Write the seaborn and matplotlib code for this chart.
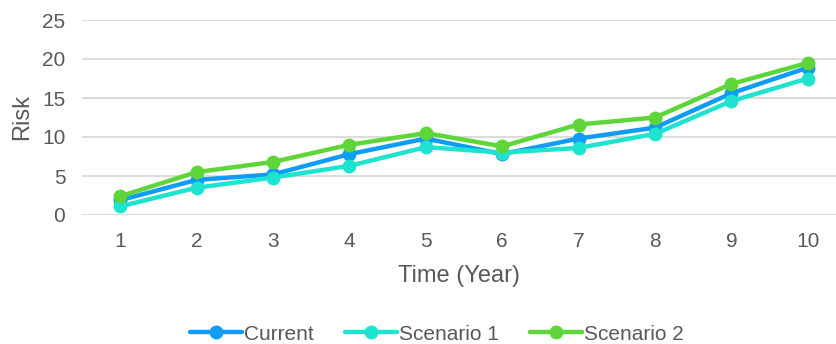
import matplotlib
matplotlib.use("Agg")
import matplotlib.pyplot as plt
import seaborn as sns
import pandas as pd

years = [1, 2, 3, 4, 5, 6, 7, 8, 9, 10]
current = [1.9, 4.5, 5.2, 7.8, 9.8, 7.8, 9.8, 11.2, 15.6, 18.9]
scenario1 = [1.1, 3.5, 4.8, 6.3, 8.7, 8.0, 8.6, 10.4, 14.6, 17.5]
scenario2 = [2.4, 5.5, 6.8, 9.0, 10.5, 8.8, 11.6, 12.5, 16.8, 19.5]
series_names = ["Current", "Scenario 1", "Scenario 2"]
colors = ["#0F9CF5", "#1EE3CF", "#5ED63A"]

df = pd.DataFrame({
    "Time (Year)": years * 3,
    "Risk": current + scenario1 + scenario2,
    "Series": [series_names[0]] * 10 + [series_names[1]] * 10 + [series_names[2]] * 10,
})

sns.set_theme(style="white")
plt.rcParams["font.family"] = ["Liberation Sans", "DejaVu Sans"]

fig = plt.figure(figsize=(8.37, 3.44), dpi=100)
ax = fig.add_axes([82 / 837, (344 - 215) / 344, (837 - 82) / 837, (215 - 20) / 344])

sns.lineplot(data=df, x="Time (Year)", y="Risk", hue="Series",
             palette=colors, marker="o", markersize=10, linewidth=3.2,
             markeredgewidth=0, ax=ax, legend=True)

ax.set_xlim(0.5, 0.5 + (837 - 82) / 76.4)
ax.set_ylim(0, 25)
ax.set_yticks([0, 5, 10, 15, 20, 25])
ax.set_xticks(years)
ax.yaxis.grid(True, color="#D9D9D9", linewidth=1.3)
ax.set_axisbelow(True)
for s in ax.spines.values():
    s.set_visible(False)
ax.tick_params(axis="both", length=0, labelsize=15, labelcolor="#595959")
ax.tick_params(axis="x", pad=12)
ax.tick_params(axis="y", pad=12)
ax.set_xlabel("Time (Year)", fontsize=17, color="#595959", labelpad=10)
ax.set_ylabel("Risk", fontsize=17, color="#595959", labelpad=6)

handles, labels = ax.get_legend_handles_labels()
ax.legend(handles, labels, loc="center", bbox_to_anchor=(437 / 837, 10 / 344),
          bbox_transform=fig.transFigure, ncol=3, frameon=False,
          fontsize=15, handlelength=2.5, handletextpad=0.1, columnspacing=1.5,
          labelcolor="#595959")

fig.savefig("out.png", dpi=100)
